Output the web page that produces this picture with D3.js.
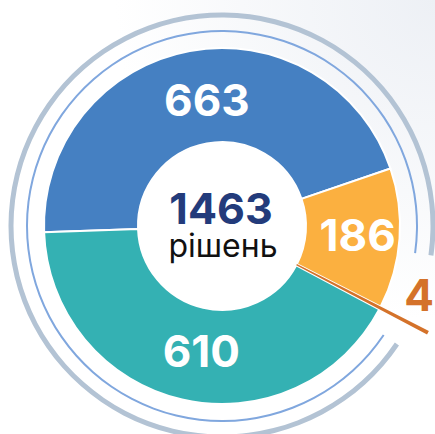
<!DOCTYPE html>
<html>
<head>
<meta charset="utf-8">
<script src="https://cdn.jsdelivr.net/npm/d3@7"></script>
<style>
  html, body { margin: 0; padding: 0; background: #fff; }
  svg { display: block; }
</style>
</head>
<body>
<svg id="chart" width="435" height="434"></svg>
<script>
// slice categories and values
const categories = ['blue', 'orange', 'small', 'teal']
const values = [663, 186, 4, 610]
const colors = ['#4580c2', '#fbb040', '#d4722a', '#34b1b3']
// center labels
const totalLabel = '1463'
const unitLabel = 'рішень'

function makeDonut() {
  const svg = d3.select('#chart')
  const width = 435
  const height = 434
  const cx = 222
  const cy = 226
  const innerR = 84
  const outerR = 178
  const deg = Math.PI / 180

  // faint background tint in the top right corner
  const defs = svg.append('defs')
  const grad = defs.append('radialGradient')
    .attr('id', 'bg')
    .attr('gradientUnits', 'userSpaceOnUse')
    .attr('cx', width).attr('cy', 0).attr('r', 320)
  grad.append('stop').attr('offset', '0%').attr('stop-color', '#edf0f5')
  grad.append('stop').attr('offset', '100%').attr('stop-color', '#ffffff')
  svg.append('rect')
    .attr('width', width).attr('height', height)
    .attr('fill', 'url(#bg)')

  const g = svg.append('g').attr('transform', `translate(${cx},${cy})`)

  // outer decorative rings, open where the small slice sticks out
  const ring = d3.arc().startAngle(124 * deg).endAngle(458 * deg)
  g.append('path')
    .attr('d', ring.innerRadius(208.5).outerRadius(213.5)())
    .attr('fill', '#b3c3d4')
  g.append('path')
    .attr('d', ring.innerRadius(194).outerRadius(196)())
    .attr('fill', '#80a7de')

  const pie = d3.pie().sort(null)
    .startAngle(-92 * deg)
    .endAngle(268 * deg)
  const arcs = pie(values)

  const arc = d3.arc().innerRadius(innerR).outerRadius(outerR)
  // the tiny slice is pulled out further than the rest
  const smallArc = d3.arc().innerRadius(innerR).outerRadius(232)

  const big = arcs.filter((d, i) => categories[i] !== 'small')
  g.selectAll('path.slice')
    .data(big)
    .enter()
    .append('path')
    .attr('class', 'slice')
    .attr('d', arc)
    .attr('fill', d => colors[d.index])
    .attr('stroke', '#fff')
    .attr('stroke-width', 2)

  const small = arcs.filter((d, i) => categories[i] === 'small')
  g.selectAll('path.small')
    .data(small)
    .enter()
    .append('path')
    .attr('class', 'small')
    .attr('d', smallArc)
    .attr('fill', d => colors[d.index])

  // white hole
  g.append('circle').attr('r', innerR - 1).attr('fill', '#fff')

  // value labels inside the big slices (nudged a bit to the right)
  const labelArc = d3.arc().innerRadius(128).outerRadius(128)
  g.selectAll('text.value')
    .data(big)
    .enter()
    .append('text')
    .attr('class', 'value')
    .attr('transform', d => {
      const [x, y] = labelArc.centroid(d)
      return `translate(${x + 8},${y})`
    })
    .attr('text-anchor', 'middle')
    .attr('dy', '0.36em')
    .attr('fill', '#fff')
    .attr('font-family', 'Inter, sans-serif')
    .attr('font-weight', 700)
    .attr('font-size', 44)
    .text(d => d.data)

  // label of the tiny slice, outside next to its wedge
  g.selectAll('text.small')
    .data(small)
    .enter()
    .append('text')
    .attr('class', 'small')
    .attr('transform', d => {
      const a = (d.startAngle + d.endAngle) / 2 - 8 * deg
      return `translate(${Math.sin(a) * 209},${-Math.cos(a) * 209})`
    })
    .attr('text-anchor', 'middle')
    .attr('dy', '0.36em')
    .attr('fill', '#d4722a')
    .attr('font-family', 'Inter, sans-serif')
    .attr('font-weight', 700)
    .attr('font-size', 44)
    .text(d => d.data)

  // total in the center
  g.append('text')
    .attr('x', -1).attr('y', -2)
    .attr('text-anchor', 'middle')
    .attr('fill', '#233b7b')
    .attr('font-family', 'Inter, sans-serif')
    .attr('font-weight', 700)
    .attr('font-size', 43)
    .text(totalLabel)
  g.append('text')
    .attr('x', 1).attr('y', 31)
    .attr('text-anchor', 'middle')
    .attr('fill', '#111')
    .attr('font-family', 'Inter, sans-serif')
    .attr('font-weight', 400)
    .attr('font-size', 32)
    .text(unitLabel)
}

window.onload = makeDonut
</script>
</body>
</html>
